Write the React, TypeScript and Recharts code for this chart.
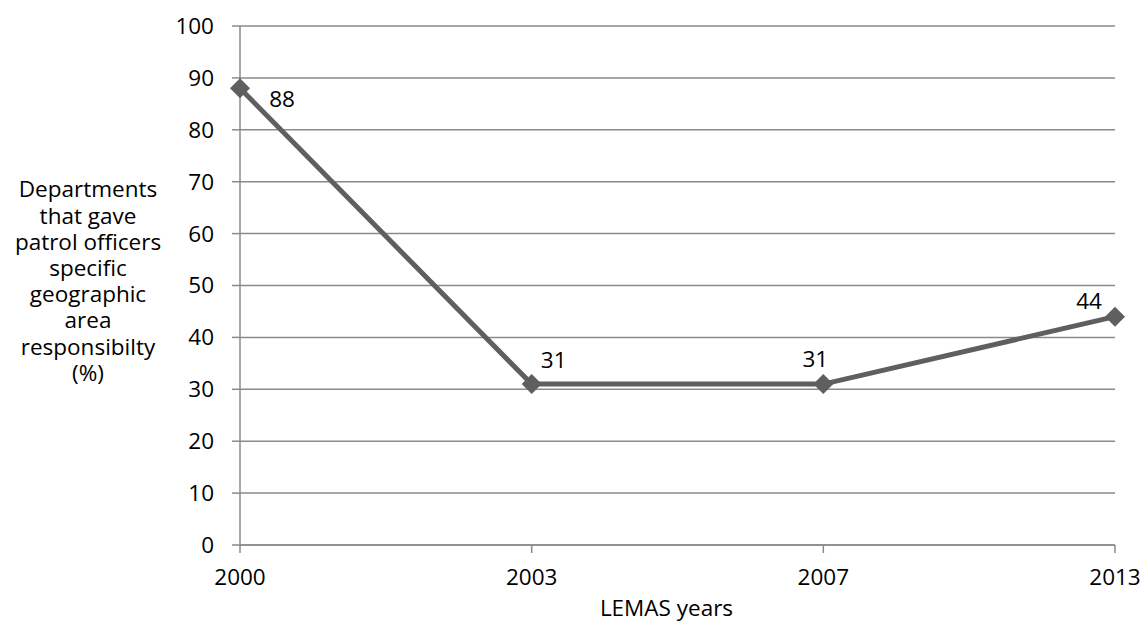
import React from "react";
import {
  LineChart,
  Line,
  XAxis,
  YAxis,
  CartesianGrid,
  LabelList,
} from "recharts";

// LEMAS survey years and share of departments (%)
const years = ["2000", "2003", "2007", "2013"];
const shares = [88, 31, 31, 44];
const yTicks = [0, 10, 20, 30, 40, 50, 60, 70, 80, 90, 100];
const yTitleLines = [
  "Departments",
  "that gave",
  "patrol officers",
  "specific",
  "geographic",
  "area",
  "responsibilty",
  "(%)",
];
const xTitle = "LEMAS years";

const data = years.map((year, i) => ({ year, share: shares[i] }));

const FONT = "'Open Sans', sans-serif";
const FONT_SIZE = 22.5;
const LINE_COLOR = "#5f5f5f";
const GRID_COLOR = "#8a8a8a";

// Diamond marker
const Diamond = (props: any) => {
  const { cx, cy } = props;
  if (cx == null || cy == null) return null;
  const r = 10;
  return (
    <path
      d={`M${cx},${cy - r} L${cx + r},${cy} L${cx},${cy + r} L${cx - r},${cy} Z`}
      fill={LINE_COLOR}
    />
  );
};

// Value labels placed beside each point, clear of the line
const labelOffsets = [
  { dx: 42, dy: 10 },
  { dx: 22, dy: -25 },
  { dx: -8, dy: -26 },
  { dx: -26, dy: -16 },
];

const ValueLabel = (props: any) => {
  const { x, y, value, index } = props;
  const o = labelOffsets[index] || { dx: 0, dy: -20 };
  return (
    <text
      x={x + o.dx}
      y={y + o.dy}
      textAnchor="middle"
      dominantBaseline="central"
      fontFamily={FONT}
      fontSize={FONT_SIZE}
      fill="#000"
    >
      {value}
    </text>
  );
};

const YTitle = (props: any) => {
  const { viewBox } = props;
  const cy = viewBox.y + viewBox.height / 2;
  const lh = 26.2;
  const startY = cy - ((yTitleLines.length - 1) * lh) / 2 - 5;
  return (
    <text
      x={88}
      y={startY}
      textAnchor="middle"
      fontFamily={FONT}
      fontSize={FONT_SIZE}
      fill="#000"
    >
      {yTitleLines.map((line, i) => (
        <tspan key={i} x={88} y={startY + i * lh} dominantBaseline="central">
          {line}
        </tspan>
      ))}
    </text>
  );
};

const XTitle = (props: any) => {
  const { viewBox } = props;
  return (
    <text
      x={viewBox.x + viewBox.width / 2 - 11}
      y={607}
      textAnchor="middle"
      dominantBaseline="central"
      fontFamily={FONT}
      fontSize={FONT_SIZE}
      fill="#000"
    >
      {xTitle}
    </text>
  );
};

export default function App() {
  return (
    <div
      style={{
        position: "absolute",
        left: 0,
        top: 0,
        width: 1143,
        height: 623,
        background: "#fff",
        overflow: "hidden",
      }}
    >
      <LineChart
        width={1143}
        height={623}
        data={data}
        margin={{ top: 26, right: 28, bottom: 0, left: 0 }}
      >
        <CartesianGrid vertical={false} stroke={GRID_COLOR} strokeWidth={1.5} />
        <XAxis
          dataKey="year"
          height={78}
          stroke={GRID_COLOR}
          strokeWidth={1.5}
          tickSize={8}
          tickMargin={16}
          tick={{ fill: "#000", fontFamily: FONT, fontSize: FONT_SIZE }}
          interval={0}
          label={<XTitle />}
        />
        <YAxis
          width={240}
          domain={[0, 100]}
          ticks={yTicks}
          interval={0}
          stroke={GRID_COLOR}
          strokeWidth={1.5}
          tickSize={8}
          tickMargin={18}
          tick={{ fill: "#000", fontFamily: FONT, fontSize: FONT_SIZE }}
          label={<YTitle />}
        />
        <Line
          type="linear"
          dataKey="share"
          stroke={LINE_COLOR}
          strokeWidth={5}
          dot={<Diamond />}
          activeDot={false}
          isAnimationActive={false}
        >
          <LabelList dataKey="share" content={<ValueLabel />} />
        </Line>
      </LineChart>
    </div>
  );
}
